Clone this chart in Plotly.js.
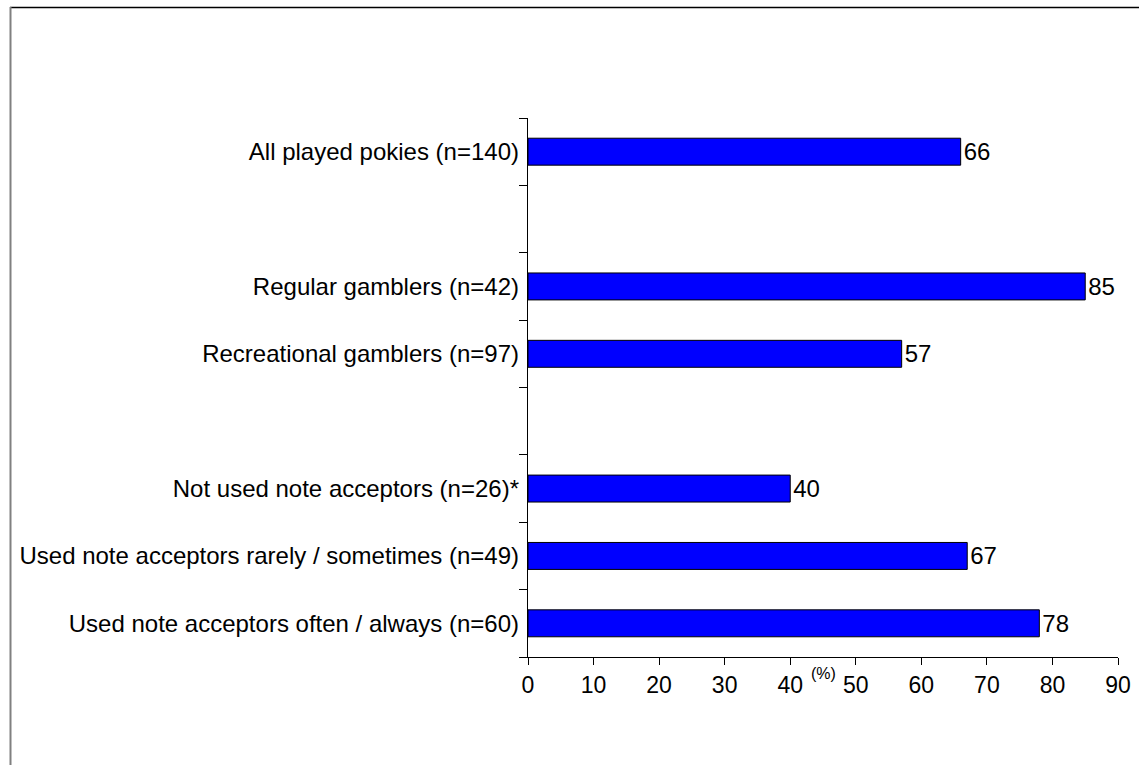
<!DOCTYPE html>
<html>
<head>
<meta charset="utf-8">
<script src="https://cdn.plot.ly/plotly-3.0.1.min.js"></script>
<style>html,body{margin:0;padding:0;background:#fff;}#chart{width:1139px;height:765px;}</style>
</head>
<body>
<div id="chart"></div>
<script>
// Data (empty strings are spacer slots between groups)
var categories = [
  "All played pokies (n=140)",
  "",
  "Regular gamblers (n=42)",
  "Recreational gamblers (n=97)",
  "",
  "Not used note acceptors (n=26)*",
  "Used note acceptors rarely / sometimes (n=49)",
  "Used note acceptors often / always (n=60)"
];
var values = [66, null, 85, 57, null, 40, 67, 78];
var xTickValues = [0, 10, 20, 30, 40, 50, 60, 70, 80, 90];
var xAxisLabel = "(%)";

var slots = categories.map(function (c, i) { return i; });
var boundaries = [];
for (var b = 0; b <= categories.length; b++) boundaries.push(b - 0.5);

var FONT = "Liberation Sans, Arial, sans-serif";

var trace = {
  type: "bar",
  orientation: "h",
  x: values,
  y: slots,
  width: 0.4,
  marker: { color: "#0000FF", line: { color: "#000000", width: 1 } },
  texttemplate: "%{x}",
  textposition: "outside",
  constraintext: "none",
  cliponaxis: false,
  textfont: { family: FONT, size: 24, color: "#000" },
  hoverinfo: "skip",
  showlegend: false
};

// invisible trace on the label axis
var labelTrace = {
  type: "scatter",
  mode: "markers",
  x: values.map(function () { return 0; }),
  y: slots,
  yaxis: "y2",
  marker: { opacity: 0 },
  hoverinfo: "skip",
  showlegend: false
};

var layout = {
  width: 1139,
  height: 765,
  margin: { l: 528, r: 21, t: 118, b: 108, pad: 0 },
  paper_bgcolor: "#fff",
  plot_bgcolor: "#fff",
  font: { family: FONT, size: 24, color: "#000" },
  xaxis: {
    range: [0, 90],
    tickvals: xTickValues,
    ticktext: xTickValues.map(String),
    ticks: "outside",
    ticklen: 7,
    tickcolor: "#000",
    tickwidth: 1,
    showline: true,
    linecolor: "#000",
    linewidth: 1,
    showgrid: false,
    zeroline: false,
    tickfont: { family: FONT, size: 23, color: "#000" },
    fixedrange: true
  },
  yaxis: {
    range: [categories.length - 0.5, -0.5],
    tickvals: boundaries,
    ticktext: boundaries.map(function () { return ""; }),
    ticks: "outside",
    ticklen: 8,
    tickcolor: "#000",
    tickwidth: 1,
    showline: true,
    linecolor: "#000",
    linewidth: 1,
    showgrid: false,
    zeroline: false,
    fixedrange: true
  },
  yaxis2: {
    overlaying: "y",
    side: "left",
    range: [categories.length - 0.5, -0.5],
    tickvals: slots,
    ticktext: categories,
    ticks: "",
    showline: false,
    showgrid: false,
    zeroline: false,
    ticklabelstandoff: 8,
    tickfont: { family: FONT, size: 24, color: "#000" },
    fixedrange: true
  },
  annotations: [{
    text: xAxisLabel,
    xref: "x", yref: "paper",
    x: 45, y: 0,
    xanchor: "center", yanchor: "top",
    yshift: -6,
    showarrow: false,
    font: { family: FONT, size: 16, color: "#000" }
  }],
  shapes: [
    { type: "line", xref: "paper", yref: "paper",
      x0: (10 - 528) / 590, x1: (1145 - 528) / 590,
      y0: (657 - 7.5) / 539, y1: (657 - 7.5) / 539,
      line: { color: "#000", width: 1.5 } },
    { type: "line", xref: "paper", yref: "paper",
      x0: (10.5 - 528) / 590, x1: (10.5 - 528) / 590,
      y0: (657 - 7) / 539, y1: (657 - 770) / 539,
      line: { color: "#808080", width: 2 } }
  ]
};

Plotly.newPlot("chart", [trace, labelTrace], layout, { displayModeBar: false, staticPlot: true });
</script>
</body>
</html>
